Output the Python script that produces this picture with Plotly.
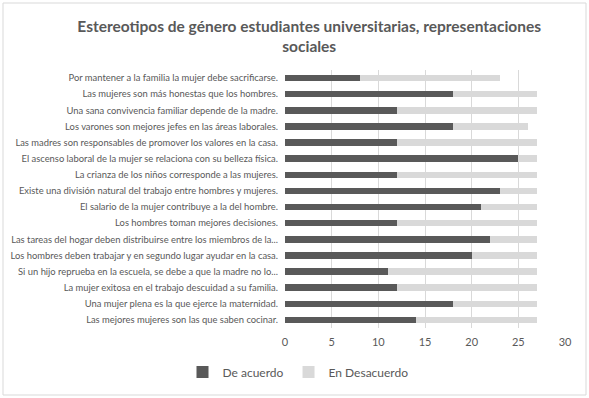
import plotly.graph_objects as go

categories = [
    "Por mantener a la familia la mujer debe sacrificarse.",
    "Las mujeres son más honestas que los hombres.",
    "Una sana convivencia familiar depende de la madre.",
    "Los varones son mejores jefes en las áreas laborales.",
    "Las madres son responsables de promover los valores en la casa.",
    "El ascenso laboral de la mujer se relaciona con su belleza física.",
    "La crianza de los niños corresponde a las mujeres.",
    "Existe una división natural del trabajo entre hombres y mujeres.",
    "El salario de la mujer contribuye a la del hombre.",
    "Los hombres toman mejores decisiones.",
    "Las tareas del hogar deben distribuirse entre los miembros de la...",
    "Los hombres deben trabajar y en segundo lugar ayudar en la casa.",
    "Si un hijo reprueba en la escuela, se debe a que la madre no lo...",
    "La mujer exitosa en el trabajo descuidad a su familia.",
    "Una mujer plena es la que ejerce la maternidad.",
    "Las mejores mujeres son las que saben cocinar.",
]
de_acuerdo = [8, 18, 12, 18, 12, 25, 12, 23, 21, 12, 22, 20, 11, 12, 18, 14]
en_desacuerdo = [15, 9, 15, 8, 15, 2, 15, 4, 6, 15, 5, 7, 16, 15, 9, 13]
x_ticks = [0, 5, 10, 15, 20, 25, 30]

font_family = "Lato, Carlito, Open Sans, sans-serif"
fig = go.Figure()
fig.add_trace(go.Bar(y=categories, x=de_acuerdo, name="De acuerdo", orientation="h",
                     marker=dict(color="#595959", line=dict(width=0))))
fig.add_trace(go.Bar(y=categories, x=en_desacuerdo, name="En Desacuerdo", orientation="h",
                     marker=dict(color="#d9d9d9", line=dict(width=0))))

L, R, T, B = 285, 24, 70, 70
W, H = 589, 398
pw = W - L - R
ph = H - T - B

def px_x(p):
    return (p - L) / pw

def px_y(p):
    return (H - B - p) / ph

fig.update_layout(
    width=W, height=H,
    barmode="stack", bargap=0.6,
    margin=dict(l=L, r=R, t=T, b=B, autoexpand=False),
    paper_bgcolor="white", plot_bgcolor="white",
    font=dict(family=font_family, color="#595959", size=10),
    title=dict(text="<b>Estereotipos de género estudiantes universitarias, representaciones<br>sociales</b>",
               x=0.525, xanchor="center", y=1 - 32 / H, yanchor="middle",
               font=dict(size=15.5, color="#595959")),
    xaxis=dict(range=[0, 30], tickvals=x_ticks, showgrid=True, gridcolor="#d9d9d9",
               zeroline=False, showline=False, ticks="", tickfont=dict(size=11),
               ticklabelstandoff=6, fixedrange=True),
    yaxis=dict(categoryorder="array", categoryarray=categories[::-1], autorange=True,
               showgrid=False, ticks="", ticklabelstandoff=6,
               tickfont=dict(size=9.4),
               showline=False),
    legend=dict(orientation="h", x=px_x(298), xanchor="center", y=px_y(372), yanchor="middle",
                font=dict(size=12), traceorder="normal", itemwidth=30),
    showlegend=True,
    shapes=[dict(type="rect", xref="paper", yref="paper",
                 x0=px_x(3), x1=px_x(586), y0=px_y(395), y1=px_y(3),
                 line=dict(color="#d9d9d9", width=1), fillcolor="rgba(0,0,0,0)", layer="below")],
)

fig.write_html("out.html", config={"displayModeBar": False},
               post_script="document.body.style.margin='0';document.body.style.padding='0';")
